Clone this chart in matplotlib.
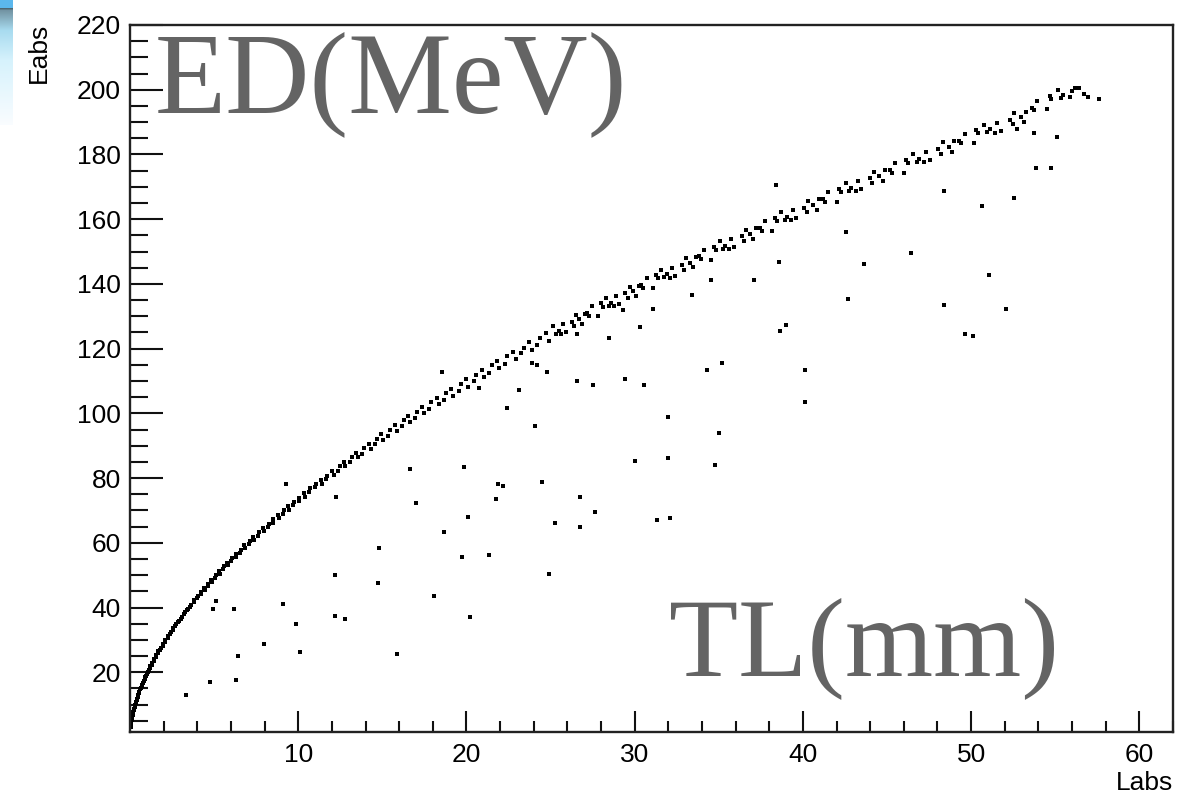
import matplotlib
matplotlib.use("Agg")
import matplotlib.pyplot as plt
import numpy as np
from matplotlib.ticker import FixedLocator

# ---- measured track length (Labs, mm) vs deposited energy (Eabs, MeV) ----
# main band, short tracks
band_low_L = [0.04, 0.05, 0.07, 0.08, 0.10, 0.12, 0.14, 0.16, 0.18, 0.20, 0.23, 0.25, 0.28, 0.30,
              0.34, 0.36, 0.40, 0.42, 0.47, 0.49, 0.54, 0.56, 0.62, 0.64, 0.70, 0.72, 0.79, 0.81,
              0.88, 0.90, 0.98, 1.00, 1.08, 1.11, 1.19, 1.21, 1.30, 1.33, 1.42, 1.44, 1.54, 1.57,
              1.67, 1.69, 1.80, 1.83, 1.94, 1.96, 2.08, 2.11, 2.23, 2.25, 2.38, 2.41, 2.54, 2.56,
              2.70, 2.73, 2.87, 2.89, 3.04, 3.07, 3.22, 3.24, 3.40, 3.43, 3.59, 3.62, 3.79, 3.81,
              3.99, 4.02, 4.20, 4.23]
band_low_E = [3.2, 3.7, 4.3, 4.7, 5.2, 5.6, 6.3, 6.7, 7.2, 7.6, 8.3, 8.7, 9.3, 9.8,
              10.4, 10.8, 11.4, 11.9, 12.5, 12.9, 13.5, 14.0, 14.7, 15.1, 15.7, 16.2, 16.8, 17.3,
              17.9, 18.4, 19.0, 19.6, 20.1, 20.7, 21.3, 21.8, 22.4, 23.0, 23.6, 24.1, 24.7, 25.3,
              25.9, 26.5, 27.0, 27.6, 28.2, 28.8, 29.4, 30.0, 30.6, 31.2, 31.8, 32.4, 33.0, 33.6,
              34.2, 34.8, 35.4, 36.0, 36.6, 37.2, 37.9, 38.5, 39.1, 39.7, 40.3, 40.9, 41.6, 42.2,
              42.9, 43.5, 44.2, 44.8]

band_mid_L = [4.40, 4.45, 4.62, 4.66, 4.84, 4.89, 5.07, 5.12, 5.30, 5.35, 5.54, 5.58, 5.78, 5.83,
              6.03, 6.08, 6.28, 6.33, 6.54, 6.59, 6.80, 6.85, 7.07, 7.12, 7.34, 7.39, 7.62, 7.67,
              7.90, 7.95, 8.19, 8.24, 8.48, 8.53, 8.78, 8.83, 9.08, 9.13, 9.39, 9.44, 9.70, 9.75,
              10.02, 10.07, 10.34, 10.39, 10.67, 10.72, 11.00, 11.05, 11.34, 11.39, 11.68, 11.73]
band_mid_E = [45.9, 45.3, 46.6, 47.4, 48.6, 47.9, 49.2, 50.1, 51.2, 50.5, 51.8, 52.7, 53.9, 53.1,
              54.4, 55.3, 56.5, 55.7, 57.0, 57.9, 59.2, 58.3, 59.6, 60.5, 61.9, 61.0, 62.2, 63.2,
              64.5, 63.6, 65.0, 65.9, 66.2, 67.3, 68.6, 67.6, 69.0, 70.0, 71.3, 70.2, 71.6, 72.7,
              73.0, 74.0, 75.3, 74.3, 75.6, 76.8, 77.1, 78.1, 79.4, 78.3, 79.7, 80.8]

band_upper_L = [12.00, 12.10, 12.35, 12.46, 12.70, 12.80, 13.08, 13.18, 13.43, 13.55, 13.80, 13.92,
                14.18, 14.30, 14.58, 14.68, 14.95, 15.06, 15.35, 15.46, 15.74, 15.86, 16.15, 16.26,
                16.55, 16.67, 16.96, 17.08, 17.38, 17.50, 17.80, 17.92, 18.22, 18.35, 18.66, 18.80,
                19.10, 19.22, 19.54, 19.68, 19.98, 20.12, 20.44, 20.58, 20.90, 21.03, 21.35, 21.50,
                21.82, 21.96, 22.30, 22.43, 22.76, 22.92, 23.25, 23.40, 23.74, 23.88, 24.22, 24.38,
                24.72, 24.88]
band_upper_E = [82.3, 81.0, 82.2, 83.6, 85.0, 83.8, 85.1, 86.5, 87.9, 86.4, 87.6, 89.3,
                90.6, 89.0, 90.4, 92.1, 93.5, 91.8, 93.1, 94.9, 96.3, 94.6, 96.0, 97.8,
                99.1, 97.4, 98.6, 100.5, 101.9, 100.1, 101.5, 103.4, 104.8, 102.9, 104.1, 106.2,
                107.6, 105.5, 107.0, 109.1, 110.5, 108.3, 109.9, 111.8, 113.3, 111.2, 112.6, 114.8,
                116.2, 113.9, 115.4, 117.7, 119.0, 116.9, 118.6, 120.3, 121.9, 119.7, 121.2, 123.4,
                124.8, 122.5]

# main band, long tracks
band_high_L = [25.15, 25.35, 25.48, 25.93, 25.73, 25.61, 26.27, 26.52, 26.42, 26.70, 26.89, 27.02,
               27.48, 27.28, 27.16, 27.84, 28.09, 27.99, 28.27, 28.47, 28.60, 29.08, 28.88, 28.76,
               29.45, 29.70, 29.60, 29.90, 30.10, 30.23, 30.72, 30.52, 30.40, 31.11, 31.36, 31.26,
               31.57, 31.77, 31.90, 32.41, 32.21, 32.09, 32.81, 33.06, 32.96, 33.30, 33.49, 33.62,
               34.14, 33.94, 33.82, 34.56, 34.81, 34.71, 35.05, 35.25, 35.38, 35.92, 35.72, 35.60,
               36.35, 36.60, 36.50, 36.87, 37.06, 37.19, 37.74, 37.54, 37.42, 38.19, 38.44, 38.34,
               38.71, 38.91, 39.04, 39.61, 39.41, 39.29, 40.07, 40.32, 40.22, 40.62, 40.81, 40.94,
               41.52, 41.32, 41.20, 42.00, 42.25, 42.15, 42.55, 42.75, 42.88, 43.48, 43.28, 43.16,
               43.97, 44.22, 44.12, 44.55, 44.74, 44.87, 45.48, 45.28, 45.16, 45.99, 46.24, 46.14,
               46.57, 46.77, 46.90, 47.53, 47.33, 47.21, 48.05, 48.30, 48.20, 48.66, 48.85, 48.98,
               49.62, 49.42, 49.30, 50.16, 50.41, 50.31, 50.77, 50.97, 51.10, 51.76, 51.56, 51.44,
               52.31, 52.56, 52.46, 52.95, 53.14, 53.27, 53.94, 53.74, 53.62, 54.51, 54.76, 54.66,
               55.15, 55.35, 55.48, 56.17, 55.97, 55.85, 56.40, 56.70, 56.95]
band_high_E = [127.0, 124.6, 125.6, 125.1, 127.5, 124.4, 128.3, 130.4, 126.9, 129.1, 127.6, 130.8,
               133.1, 130.1, 131.0, 130.0, 133.0, 134.0, 135.6, 133.2, 134.2, 133.8, 136.2, 133.1,
               137.1, 139.2, 135.7, 137.8, 136.3, 139.5, 141.8, 138.8, 139.7, 138.7, 141.7, 142.7,
               144.4, 142.0, 143.0, 142.6, 145.0, 141.9, 145.8, 147.9, 144.4, 146.6, 145.1, 148.3,
               150.6, 147.6, 148.5, 147.5, 150.5, 151.5, 153.2, 150.8, 151.8, 151.4, 153.8, 150.7,
               154.7, 156.8, 153.3, 155.5, 154.0, 157.2, 159.4, 156.4, 157.3, 156.4, 159.4, 160.4,
               162.1, 159.7, 160.7, 160.3, 162.7, 159.6, 163.6, 165.7, 162.2, 164.4, 162.9, 166.1,
               168.4, 165.4, 166.3, 165.4, 168.4, 169.4, 171.1, 168.7, 169.7, 169.3, 171.7, 168.6,
               172.6, 174.7, 171.2, 173.4, 171.9, 175.1, 177.4, 174.4, 175.3, 174.4, 177.4, 178.4,
               180.1, 177.7, 178.7, 178.3, 180.7, 177.6, 181.6, 183.7, 180.2, 182.4, 180.9, 184.1,
               186.4, 183.4, 184.3, 183.5, 186.5, 187.5, 189.2, 186.8, 187.8, 187.4, 189.8, 186.7,
               190.7, 192.8, 189.3, 191.5, 190.0, 193.2, 196.6, 193.6, 194.5, 194.1, 197.1, 198.1,
               199.8, 197.4, 198.4, 200.6, 199.5, 197.8, 200.5, 198.7, 197.9]

# events away from the main band
off_L = [12.2, 14.74, 9.09, 5.10, 4.96, 6.21, 9.88, 12.2, 12.8, 7.99, 6.41, 10.12, 15.87, 4.76,
         6.31, 3.31, 18.1, 20.2, 24.9, 18.55, 16.67, 17.0, 18.65, 14.78, 12.22, 9.29,
         38.55, 34.52, 37.1, 33.43, 29.33, 31.1, 30.3, 26.55, 28.5, 38.63, 38.99, 23.89, 24.2,
         24.76, 35.2, 34.3, 26.55, 27.5, 29.4, 30.55, 23.1, 22.4, 20.77, 32.0, 24.1, 35.0, 32.0,
         30.0, 34.76, 19.88, 21.86, 22.2, 24.5, 21.77, 26.77, 27.66, 20.1, 25.24, 26.77, 31.33,
         32.1, 19.76, 21.33,
         53.87, 54.76, 48.41, 52.52, 50.65, 42.54, 46.43, 43.65, 51.09, 42.66, 48.41, 52.1,
         49.66, 50.1, 40.1, 40.1, 55.12, 38.43, 57.6, 52.7, 53.75]
off_E = [50.0, 47.6, 41.2, 41.9, 39.5, 39.5, 35.05, 37.3, 36.6, 28.7, 25.0, 26.3, 25.8, 17.0,
         17.7, 13.1, 43.6, 37.2, 50.5, 112.8, 82.8, 72.45, 63.3, 58.5, 74.2, 78.2,
         146.8, 141.2, 141.2, 136.5, 131.9, 132.4, 126.6, 124.4, 123.2, 125.5, 127.2, 115.7, 115.1,
         112.8, 115.7, 113.4, 110.0, 108.7, 110.5, 108.7, 107.1, 101.8, 107.7, 98.9, 96.0, 93.8, 86.2,
         85.2, 84.0, 83.4, 78.2, 77.6, 78.7, 73.6, 74.2, 69.6, 68.0, 66.1, 64.9, 67.2,
         67.8, 55.6, 56.3,
         175.7, 175.7, 168.7, 166.4, 164.1, 156.0, 149.7, 146.2, 142.7, 135.2, 133.5, 132.4,
         124.4, 123.8, 113.4, 103.6, 185.5, 170.5, 197.1, 187.8, 186.6]

x_major = [10, 20, 30, 40, 50, 60]
y_major = [20, 40, 60, 80, 100, 120, 140, 160, 180, 200, 220]

W, H = 1181, 796
fig = plt.figure(figsize=(W / 100, H / 100), dpi=100)
fig.patch.set_facecolor("white")

# window-decoration strip in the upper-left corner
strip = fig.add_axes([0, 1 - 125 / H, 13 / W, 125 / H])
strip.set_axis_off()
rows = 125
col = np.ones((rows, 1, 3))
stops_y = [0, 7, 8, 10, 30, 60, 124]
stops_c = [(0.36, 0.72, 0.93), (0.36, 0.72, 0.93), (0.30, 0.40, 0.45),
           (0.45, 0.58, 0.64), (0.66, 0.86, 0.94), (0.84, 0.95, 0.99), (0.98, 0.99, 1.0)]
for k in range(3):
    col[:, 0, k] = np.interp(np.arange(rows), stops_y, [c[k] for c in stops_c])
strip.imshow(col, aspect="auto", interpolation="bilinear")

ax = fig.add_axes([130 / W, 1 - 732 / H, (1173 - 130) / W, (732 - 25) / H])
ax.set_xlim(0, 62.0)
ax.set_ylim(1.55, 220)

for L, E in [(band_low_L, band_low_E), (band_mid_L, band_mid_E),
             (band_upper_L, band_upper_E), (band_high_L, band_high_E), (off_L, off_E)]:
    ax.plot(L, E, "s", ms=2.6, mew=0, color="black")

sans = "Liberation Sans"
ax.xaxis.set_major_locator(FixedLocator(x_major))
ax.xaxis.set_minor_locator(FixedLocator([v for v in range(2, 63, 2) if v % 10]))
ax.yaxis.set_major_locator(FixedLocator(y_major))
ax.yaxis.set_minor_locator(FixedLocator([v for v in range(5, 220, 5) if v % 20]))
ax.set_xticklabels([str(v) for v in x_major], fontsize=19, family=sans)
ax.set_yticklabels([str(v) for v in y_major], fontsize=19, family=sans)
ax.tick_params(axis="y", which="major", direction="in", length=24, width=1.5, pad=6.5, color="#111")
ax.tick_params(axis="y", which="minor", direction="in", length=13, width=1.5, color="#111")
ax.tick_params(axis="x", which="major", direction="in", length=15, width=1.5, pad=8, color="#111")
ax.tick_params(axis="x", which="minor", direction="in", length=8, width=1.5, color="#111")
for s in ax.spines.values():
    s.set_linewidth(1.7)
    s.set_color("#222")

fig.text(39 / W, 1 - 23 / H, "Eabs", rotation=90, ha="center", va="top", fontsize=19, family=sans)
fig.text(1173 / W, 1 - 790 / H, "Labs", ha="right", va="baseline", fontsize=19, family=sans)

serif = "Liberation Serif"
fig.text(155 / W, 1 - 112 / H, "ED(MeV)", ha="left", va="baseline", fontsize=84,
         family=serif, color="#646464")
fig.text(669 / W, 1 - 675 / H, "TL(mm)", ha="left", va="baseline", fontsize=81.5,
         family=serif, color="#646464")

fig.savefig("out.png", dpi=100, facecolor="white")
